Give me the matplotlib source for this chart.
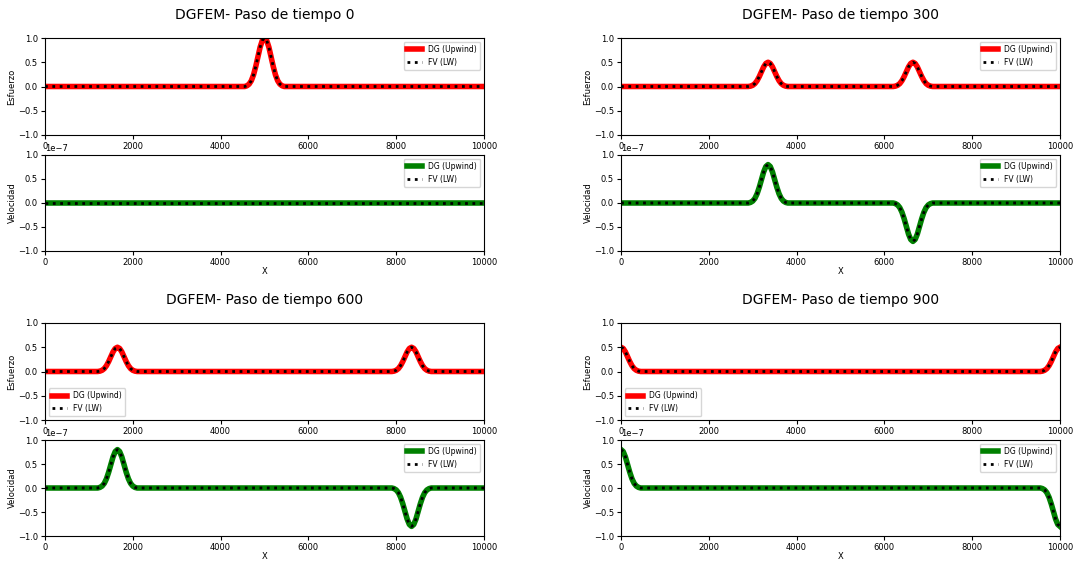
import numpy as np
import matplotlib.pyplot as plt

# pulse shape, offsets 0..450 step 50 (symmetric)
offsets = [0, 50, 100, 150, 200, 250, 300, 350, 400, 450]
profile = [1.0, 0.95, 0.81, 0.61, 0.41, 0.24, 0.12, 0.05, 0.015, 0.0]

pasos = [0, 300, 600, 900]
# (centro, amplitud) de cada pulso
esfuerzo_pulsos = [
    [(5000, 1.0)],
    [(3333, 0.5), (6667, 0.5)],
    [(1667, 0.5), (8333, 0.5)],
    [(0, 0.5), (10000, 0.5)],
]
velocidad_pulsos = [
    [],
    [(3333, 0.8e-7), (6667, -0.8e-7)],
    [(1667, 0.8e-7), (8333, -0.8e-7)],
    [(0, 0.8e-7), (10000, -0.8e-7)],
]
leg_esfuerzo = ["upper right", "upper right", "lower left", "lower left"]

x = np.arange(0, 10001, 50)


def serie(pulsos):
    y = np.zeros(len(x))
    for c, a in pulsos:
        for o, p in zip(offsets, profile):
            for xx in {c - o, c + o}:
                if 0 <= xx <= 10000:
                    y[int(round(xx / 50))] += a * p
    return y


fig = plt.figure(figsize=(10.75, 5.61), dpi=100)
lefts = [45 / 1075, 621 / 1075, 45 / 1075, 621 / 1075]
tops = [38, 38, 323, 323]
w = 439 / 1075
h = 97 / 561

for i, paso in enumerate(pasos):
    t = tops[i]
    ax1 = fig.add_axes([lefts[i], 1 - (t + 97) / 561, w, h])
    ax2 = fig.add_axes([lefts[i], 1 - (t + 117 + 96) / 561, w, 96 / 561])

    ys = serie(esfuerzo_pulsos[i])
    ax1.plot(x, ys, color="red", lw=4, label="DG (Upwind)")
    ax1.plot(x, ys, color="black", lw=2, ls=":", label="FV (LW)")
    ax1.set_xlim(0, 10000)
    ax1.set_ylim(-1, 1)
    ax1.set_ylabel("Esfuerzo", fontsize=6, labelpad=1)
    ax1.legend(loc=leg_esfuerzo[i], fontsize=5.5)

    yv = serie(velocidad_pulsos[i])
    ax2.plot(x, yv, color="green", lw=4, label="DG (Upwind)")
    ax2.plot(x, yv, color="black", lw=2, ls=":", label="FV (LW)")
    ax2.set_xlim(0, 10000)
    ax2.set_ylim(-1e-7, 1e-7)
    ax2.set_ylabel("Velocidad", fontsize=6, labelpad=1)
    ax2.set_xlabel("X", fontsize=6, labelpad=0)
    ax2.legend(loc="upper right", fontsize=5.5)

    for ax in (ax1, ax2):
        ax.tick_params(labelsize=6, length=3, pad=2)
        ax.yaxis.get_offset_text().set_fontsize(6)

    cx = lefts[i] + w / 2
    fig.text(cx, 1 - (t - 23) / 561, "DGFEM- Paso de tiempo %d" % paso,
             ha="center", va="center", fontsize=10)

fig.savefig("out.png", dpi=100)
